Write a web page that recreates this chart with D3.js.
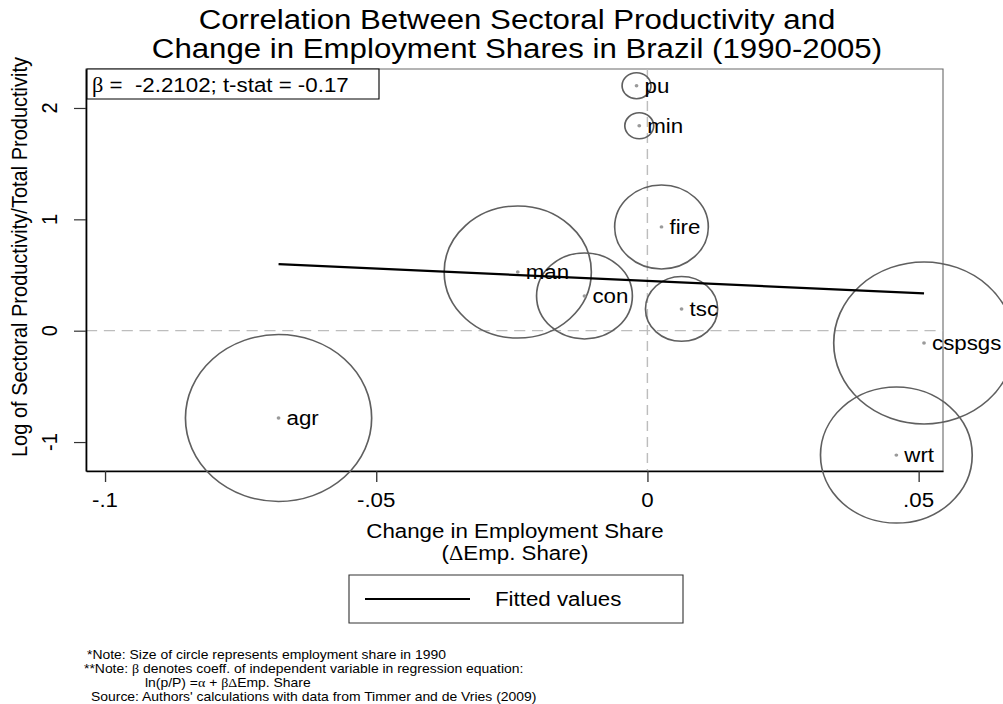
<!DOCTYPE html>
<html>
<head>
<meta charset="utf-8">
<script src="https://cdn.jsdelivr.net/npm/d3@7"></script>
<style>
  body { margin: 0; background: #fff; }
  svg { display: block; }
  text { font-family: "Liberation Sans", Arial, sans-serif; fill: #000; }
  .greek { font-family: "Liberation Serif", "DejaVu Serif", serif; }
</style>
</head>
<body>
<div id="container"></div>
<script>
// sectors, change in employment share 1990-2005, log(sector prod / total prod), employment share 1990
var sectors = ['agr', 'man', 'con', 'fire', 'tsc', 'pu', 'min', 'cspsgs', 'wrt'];
var dEmpShare = [-0.0680, -0.0239, -0.0116, 0.0026, 0.0063, -0.0020, -0.0015, 0.0510, 0.0459];
var logProd = [-0.784, 0.527, 0.312, 0.932, 0.195, 2.20, 1.84, -0.11, -1.117];
var empShare1990 = [0.253, 0.158, 0.067, 0.064, 0.038, 0.0061, 0.0061, 0.238, 0.168];

// fitted line: ln(p/P) = alpha + beta * dEmp
var alpha = 0.447;
var beta = -2.2102;

var xTicks = [-0.1, -0.05, 0, 0.05];
var xTickLabels = ['-.1', '-.05', '0', '.05'];
var yTicks = [-1, 0, 1, 2];
var yTickLabels = ['-1', '0', '1', '2'];

var titleLines = ['Correlation Between Sectoral Productivity and', 'Change in Employment Shares in Brazil (1990-2005)'];

var width = 1003, height = 704;
// the original graph was stretched sideways a little, so draw in a squeezed space and scale it back
var SX = 1.115;
function X(px) { return px / SX; }

var svg = d3.select('#container').append('svg')
  .attr('width', width)
  .attr('height', height);
svg.append('rect').attr('width', width).attr('height', height).attr('fill', '#fff');

var g = svg.append('g').attr('transform', 'scale(' + SX + ',1)');

var pLeft = 86, pRight = 943, pTop = 69, pBottom = 471;

var x = d3.scaleLinear().domain([-0.1035, 0.0545]).range([X(pLeft), X(pRight)]);
var y = d3.scaleLinear().domain([-1.26, 2.35]).range([pBottom, pTop]);
var r = d3.scaleSqrt().domain([0, 0.253]).range([0, 83.5]);

// title
g.selectAll('.title')
  .data(titleLines)
  .enter().append('text')
  .attr('class', 'title')
  .attr('x', X(517))
  .attr('y', function (d, i) { return 29 + i * 29; })
  .attr('text-anchor', 'middle')
  .style('font-size', '28px')
  .text(function (d) { return d; });

// plot region outline
g.append('rect')
  .attr('x', X(pLeft)).attr('y', pTop)
  .attr('width', X(pRight) - X(pLeft)).attr('height', pBottom - pTop)
  .attr('fill', 'none')
  .attr('stroke', '#6a6a6a')
  .attr('stroke-width', 1);

// reference lines at zero
g.append('line')
  .attr('x1', X(pLeft)).attr('x2', X(pRight))
  .attr('y1', y(0)).attr('y2', y(0))
  .attr('stroke', '#bdbdbd').attr('stroke-width', 1.3)
  .attr('stroke-dasharray', '10,6');
g.append('line')
  .attr('x1', x(0)).attr('x2', x(0))
  .attr('y1', pTop).attr('y2', pBottom)
  .attr('stroke', '#bdbdbd').attr('stroke-width', 1.3)
  .attr('stroke-dasharray', '10,6');

// axes
var yAxis = g.append('g')
  .attr('transform', 'translate(' + X(pLeft) + ',0)')
  .call(d3.axisLeft(y).tickValues(yTicks).tickFormat('').tickSize(12 / SX).tickSizeOuter(0));
var xAxis = g.append('g')
  .attr('transform', 'translate(0,' + pBottom + ')')
  .call(d3.axisBottom(x).tickValues(xTicks).tickFormat('').tickSize(11).tickSizeOuter(0));
[xAxis, yAxis].forEach(function (a) {
  a.select('.domain').attr('stroke', '#000').attr('stroke-width', 1.4);
  a.selectAll('.tick line').attr('stroke', '#333').attr('stroke-width', 1.2);
});

g.selectAll('.ylab')
  .data(yTicks)
  .enter().append('text')
  .attr('transform', function (d) { return 'translate(' + X(57) + ',' + y(d) + ') rotate(-90)'; })
  .attr('text-anchor', 'middle')
  .style('font-size', '20px')
  .text(function (d, i) { return yTickLabels[i]; });

g.selectAll('.xlab')
  .data(xTicks)
  .enter().append('text')
  .attr('x', function (d) { return x(d); })
  .attr('y', 507)
  .attr('text-anchor', 'middle')
  .style('font-size', '20px')
  .text(function (d, i) { return xTickLabels[i]; });

// axis titles
g.append('text')
  .attr('transform', 'translate(' + X(27) + ',257) rotate(-90)')
  .attr('text-anchor', 'middle')
  .style('font-size', '20px')
  .text('Log of Sectoral Productivity/Total Productivity');
g.append('text')
  .attr('x', X(515)).attr('y', 538)
  .attr('text-anchor', 'middle')
  .style('font-size', '20px')
  .text('Change in Employment Share');
var xt2 = g.append('text')
  .attr('x', X(515)).attr('y', 560)
  .attr('text-anchor', 'middle')
  .style('font-size', '20px');
xt2.append('tspan').text('(');
xt2.append('tspan').attr('class', 'greek').text('\u0394');
xt2.append('tspan').text('Emp. Share)');

// bubbles sized by 1990 employment share
var pts = sectors.map(function (s, i) {
  return { name: s, dx: dEmpShare[i], lp: logProd[i], w: empShare1990[i] };
});

g.selectAll('.bubble')
  .data(pts)
  .enter().append('circle')
  .attr('class', 'bubble')
  .attr('cx', function (d) { return x(d.dx); })
  .attr('cy', function (d) { return y(d.lp); })
  .attr('r', function (d) { return r(d.w); })
  .attr('fill', 'none')
  .attr('stroke', '#5f5f5f')
  .attr('stroke-width', 1.5);

g.selectAll('.dot')
  .data(pts)
  .enter().append('circle')
  .attr('cx', function (d) { return x(d.dx); })
  .attr('cy', function (d) { return y(d.lp); })
  .attr('r', 1.7)
  .attr('fill', '#9a9a9a');

g.selectAll('.lbl')
  .data(pts)
  .enter().append('text')
  .attr('x', function (d) { return x(d.dx) + X(8); })
  .attr('y', function (d) { return y(d.lp) + 7; })
  .style('font-size', '20px')
  .text(function (d) { return d.name; });

// fitted values line over the range of the data
var xr = d3.extent(dEmpShare);
g.append('line')
  .attr('x1', x(xr[0])).attr('y1', y(alpha + beta * xr[0]))
  .attr('x2', x(xr[1])).attr('y2', y(alpha + beta * xr[1]))
  .attr('stroke', '#000').attr('stroke-width', 2.2);

// coefficient box
g.append('rect')
  .attr('x', X(87)).attr('y', 69)
  .attr('width', X(379) - X(87)).attr('height', 30)
  .attr('fill', '#fff').attr('stroke', '#000').attr('stroke-width', 1);
var bt = g.append('text')
  .attr('x', X(92)).attr('y', 92)
  .style('font-size', '20px')
  .style('white-space', 'pre');
bt.append('tspan').attr('class', 'greek').text('\u03B2');
bt.append('tspan').text(' =  ' + beta.toFixed(4) + '; t-stat = -0.17');

// legend
g.append('rect')
  .attr('x', X(349)).attr('y', 575)
  .attr('width', X(683) - X(349)).attr('height', 48)
  .attr('fill', '#fff').attr('stroke', '#333').attr('stroke-width', 1);
g.append('line')
  .attr('x1', X(365)).attr('x2', X(470))
  .attr('y1', 599).attr('y2', 599)
  .attr('stroke', '#000').attr('stroke-width', 2.2);
g.append('text')
  .attr('x', X(495)).attr('y', 606)
  .style('font-size', '20px')
  .text('Fitted values');

// notes
var nf = '12.5px';
g.append('text').attr('x', X(87)).attr('y', 659).style('font-size', nf)
  .text('*Note: Size of circle represents employment share in 1990');
var n2 = g.append('text').attr('x', X(84)).attr('y', 673).style('font-size', nf);
n2.append('tspan').text('**Note: ');
n2.append('tspan').attr('class', 'greek').text('\u03B2');
n2.append('tspan').text(' denotes coeff. of independent variable in regression equation:');
var n3 = g.append('text').attr('x', X(145)).attr('y', 687.5).style('font-size', nf).style('white-space', 'pre');
n3.append('tspan').text('ln(p/P) =');
n3.append('tspan').attr('class', 'greek').text('\u03B1');
n3.append('tspan').text(' + ');
n3.append('tspan').attr('class', 'greek').text('\u03B2\u0394');
n3.append('tspan').text('Emp. Share');
g.append('text').attr('x', X(91)).attr('y', 701).style('font-size', nf)
  .text("Source: Authors' calculations with data from Timmer and de Vries (2009)");
</script>
</body>
</html>
